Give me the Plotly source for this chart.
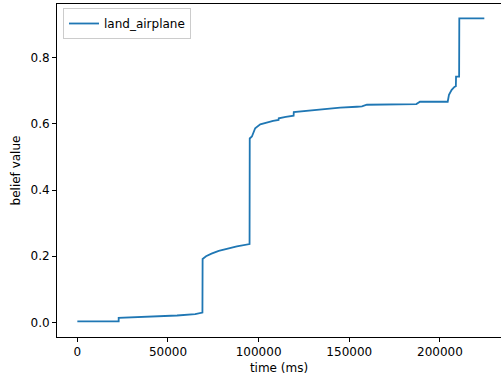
import plotly.graph_objects as go

time_ms = [0, 22800, 22800, 40000, 55000, 65000, 69000, 69100, 71000, 74000, 78000,
           83000, 88000, 95000, 95100, 96300, 98100, 100900, 104500, 108000, 111000,
           111100, 115000, 119300, 119400, 125000, 135800, 145000, 154200, 157000,
           159700, 175000, 187000, 189000, 204300, 205000, 206500, 208000, 208800,
           208900, 210600, 210700, 224500]
belief = [0.003, 0.003, 0.014, 0.017, 0.021, 0.025, 0.030, 0.192, 0.200, 0.208, 0.216,
          0.223, 0.230, 0.237, 0.556, 0.562, 0.587, 0.599, 0.605, 0.609, 0.612,
          0.617, 0.621, 0.625, 0.636, 0.639, 0.646, 0.649, 0.652, 0.653,
          0.658, 0.659, 0.660, 0.667, 0.667, 0.688, 0.703, 0.712, 0.714,
          0.743, 0.743, 0.919, 0.919]
series_name = "land_airplane"
x_ticks = [0, 50000, 100000, 150000, 200000]
y_ticks = [0.0, 0.2, 0.4, 0.6, 0.8]

fig = go.Figure()
fig.add_trace(go.Scatter(x=time_ms, y=belief, mode="lines", name=series_name,
                         line=dict(color="#1f77b4", width=1.8)))

font = dict(family="DejaVu Sans", size=12, color="#000000")
fig.update_layout(
    width=501, height=381,
    margin=dict(l=57, r=0, t=4, b=44),
    paper_bgcolor="white", plot_bgcolor="white",
    font=font,
    showlegend=True,
    legend=dict(x=0.0135, y=0.988, xanchor="left", yanchor="top",
                bordercolor="#cccccc", borderwidth=1, bgcolor="rgba(255,255,255,0.8)",
                font=font, tracegroupgap=0),
    xaxis=dict(range=[-11220, 233700], tickvals=x_ticks, tickformat="d",
               showgrid=False, zeroline=False, showline=True, linecolor="black",
               linewidth=1, mirror=True, ticks="outside", ticklen=4, tickcolor="black",
               title=dict(text="time (ms)", font=font, standoff=5)),
    yaxis=dict(range=[-0.044, 0.9625], tickvals=y_ticks, tickformat=".1f",
               showgrid=False, zeroline=False, showline=True, linecolor="black",
               linewidth=1, ticks="outside", ticklen=4, tickcolor="black",
               title=dict(text="belief value", font=font, standoff=7)),
)

fig.write_html("out.html")
